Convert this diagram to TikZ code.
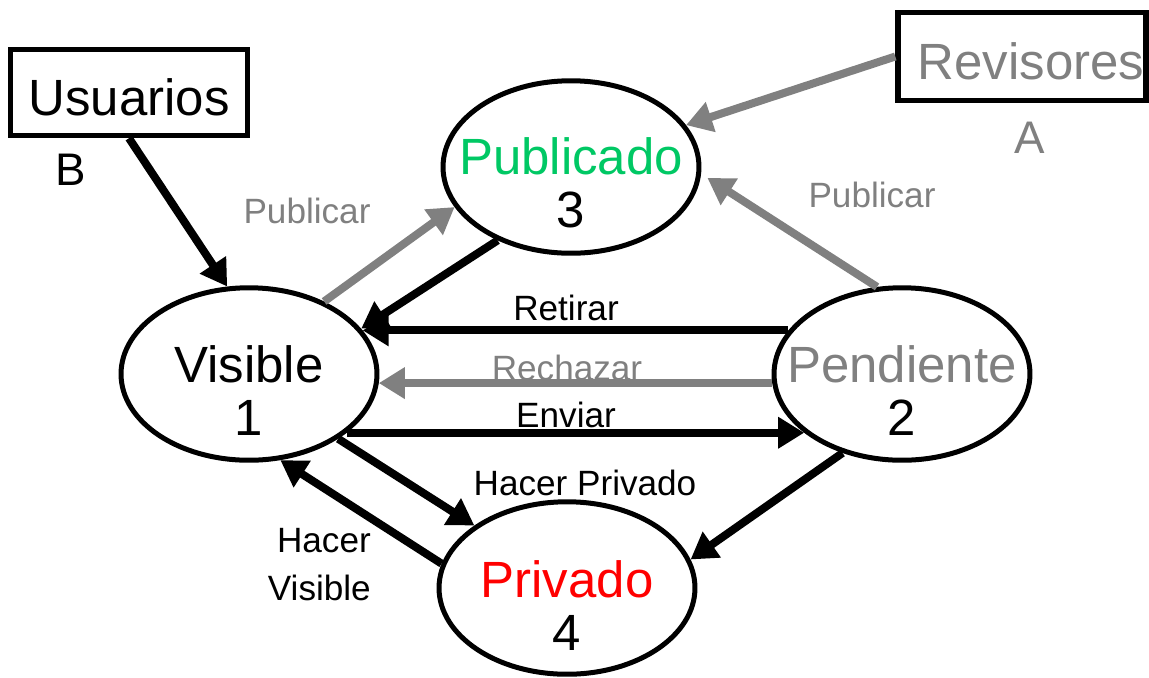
\documentclass[tikz,border=0pt]{standalone}
\usepackage{fontspec}
\setmainfont{Liberation Sans}
\usetikzlibrary{arrows.meta,shapes.geometric}

\definecolor{pubgreen}{RGB}{0,200,100}
\definecolor{revgray}{RGB}{128,128,128}

\tikzset{
  state/.style={draw, ellipse, line width=0.1cm, minimum width=5.12cm, minimum height=3.45cm, inner sep=0pt},
  actor/.style={draw, rectangle, line width=0.11cm, inner sep=0pt, text depth=0pt, font=\fontsize{29}{31}\selectfont},
  big/.style={align=center, anchor=base, font=\fontsize{29}{30}\selectfont},
  lbl/.style={anchor=base, font=\fontsize{20}{27}\selectfont},
  flow/.style={line width=0.16cm, -{Triangle[length=0.52cm, width=0.6cm]}},
}

\begin{document}
\begin{tikzpicture}[x=0.02cm, y=-0.02cm]
  \useasboundingbox (0,0) rectangle (1149,677);

  % Actors
  \node[actor, text height=0.9cm, minimum width=4.74cm, minimum height=1.72cm] (usu) at (129,92.5) {Usuarios};
  \node[anchor=base, font=\fontsize{26}{28}\selectfont] (usuB) at (71,185) {B};
  \node[actor, text=revgray, text height=0.9cm, minimum width=4.96cm, minimum height=1.76cm] (rev) at (1022,56.5) {\hspace*{0.36cm}Revisores};
  \node[anchor=base, text=revgray, font=\fontsize{26}{28}\selectfont] (revA) at (1030,153) {A};

  % States
  \node[state] (vis) at (249,374) {};
  \node[state] (pen) at (902,374) {};
  \node[state] (pub) at (571,167) {};
  \node[state] (pri) at (567,588) {};
  \node[big] (visT) at (249,435) {Visible\\1};
  \node[big] (penT) at (902,435) {\textcolor{revgray}{Pendiente}\\2};
  \node[big] (pubT) at (571,227) {\textcolor{pubgreen}{Publicado}\\3};
  \node[big] (priT) at (567,650) {\textcolor{red}{Privado}\\4};

  % Transitions
  \draw[flow] (usu.south) -- (vis.104);
  \draw[flow, revgray] (rev.west) -- (pub.20);
  \draw[flow, revgray] (vis.44) -- (pub.199);
  \draw[flow] (pub.225) -- (vis.22);
  \draw[flow, revgray, shorten >=0.15cm] (pen.106) -- (pub.-3);
  \draw[flow] (pen.159) -- (vis.21);
  \draw[flow, revgray] (pen.184) -- (vis.-4);
  \draw[flow] (vis.-31) -- (pen.211);
  \draw[flow] (vis.-36) -- (pri.146);
  \draw[flow] (pri.169) -- (vis.-70);
  \draw[flow] (pen.233) -- (pri.13);

  % Labels
  \node[lbl, text=revgray] (publA) at (307,223) {Publicar};
  \node[lbl, text=revgray] (publB) at (872,207) {Publicar};
  \node[lbl] (retirar) at (566,320) {Retirar};
  \node[lbl, text=revgray] (rechazar) at (567,380) {Rechazar};
  \node[lbl] (enviar) at (566,427) {Enviar};
  \node[lbl] (hpriv) at (585,495) {Hacer Privado};
  \node[lbl, align=right, anchor=base east] (hvis) at (377,600) {Hacer\\Visible};
\end{tikzpicture}
\end{document}
